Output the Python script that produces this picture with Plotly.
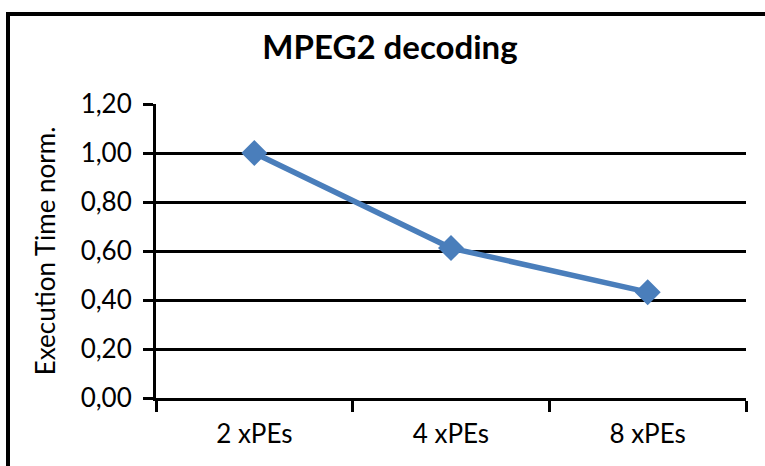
import plotly.graph_objects as go

categories = ["2 xPEs", "4 xPEs", "8 xPEs"]
exec_time_norm = [1.00, 0.612, 0.432]
y_ticks = [0.0, 0.2, 0.4, 0.6, 0.8, 1.0, 1.2]

FONT = "Lato, 'Open Sans', sans-serif"
BLUE = "#4A7EBB"

W, H = 765, 466
L, R, T, B = 156, 19, 104, 68
pw, ph = W - L - R, H - T - B

fig = go.Figure()
fig.add_trace(go.Scatter(
    x=categories, y=exec_time_norm, mode="lines+markers",
    line=dict(color=BLUE, width=5.5),
    marker=dict(symbol="diamond", size=20, color=BLUE),
    showlegend=False, cliponaxis=False,
))

# chart frame (extends past the right/bottom of the window)
fig.add_shape(type="rect", xref="paper", yref="paper",
              x0=(8 - L) / pw, x1=(W + 20 - L) / pw,
              y0=-(H + 20 - (T + ph)) / ph, y1=1 + (T - 14) / ph,
              line=dict(color="black", width=4), layer="below")

fig.update_layout(
    width=W, height=H,
    margin=dict(l=L, r=R, t=T, b=B),
    paper_bgcolor="white", plot_bgcolor="white",
    separators=", ",
    font=dict(family=FONT, color="black", size=26),
    title=dict(text="<b>MPEG2 decoding</b>", x=390 / W, xanchor="center",
               y=1 - 47 / H, yanchor="middle",
               font=dict(family=FONT, size=33, color="black")),
    xaxis=dict(type="category", range=[-0.5, 2.5], tickson="boundaries",
               showgrid=False, showline=True, linecolor="black", linewidth=3,
               ticks="outside", ticklen=11, tickwidth=3, tickcolor="black",
               tickfont=dict(size=26), ticklabelstandoff=11, zeroline=False),
    yaxis=dict(range=[0, 1.2], tickvals=y_ticks, tickformat=".2f",
               showgrid=True, gridcolor="black", gridwidth=3,
               showline=True, linecolor="black", linewidth=3,
               ticks="outside", ticklen=10, tickwidth=3, tickcolor="black",
               tickfont=dict(size=26), ticklabelstandoff=6, zeroline=False,
               title=dict(text="Execution Time norm.", font=dict(size=26), standoff=18)),
)

fig.write_html("out.html")
